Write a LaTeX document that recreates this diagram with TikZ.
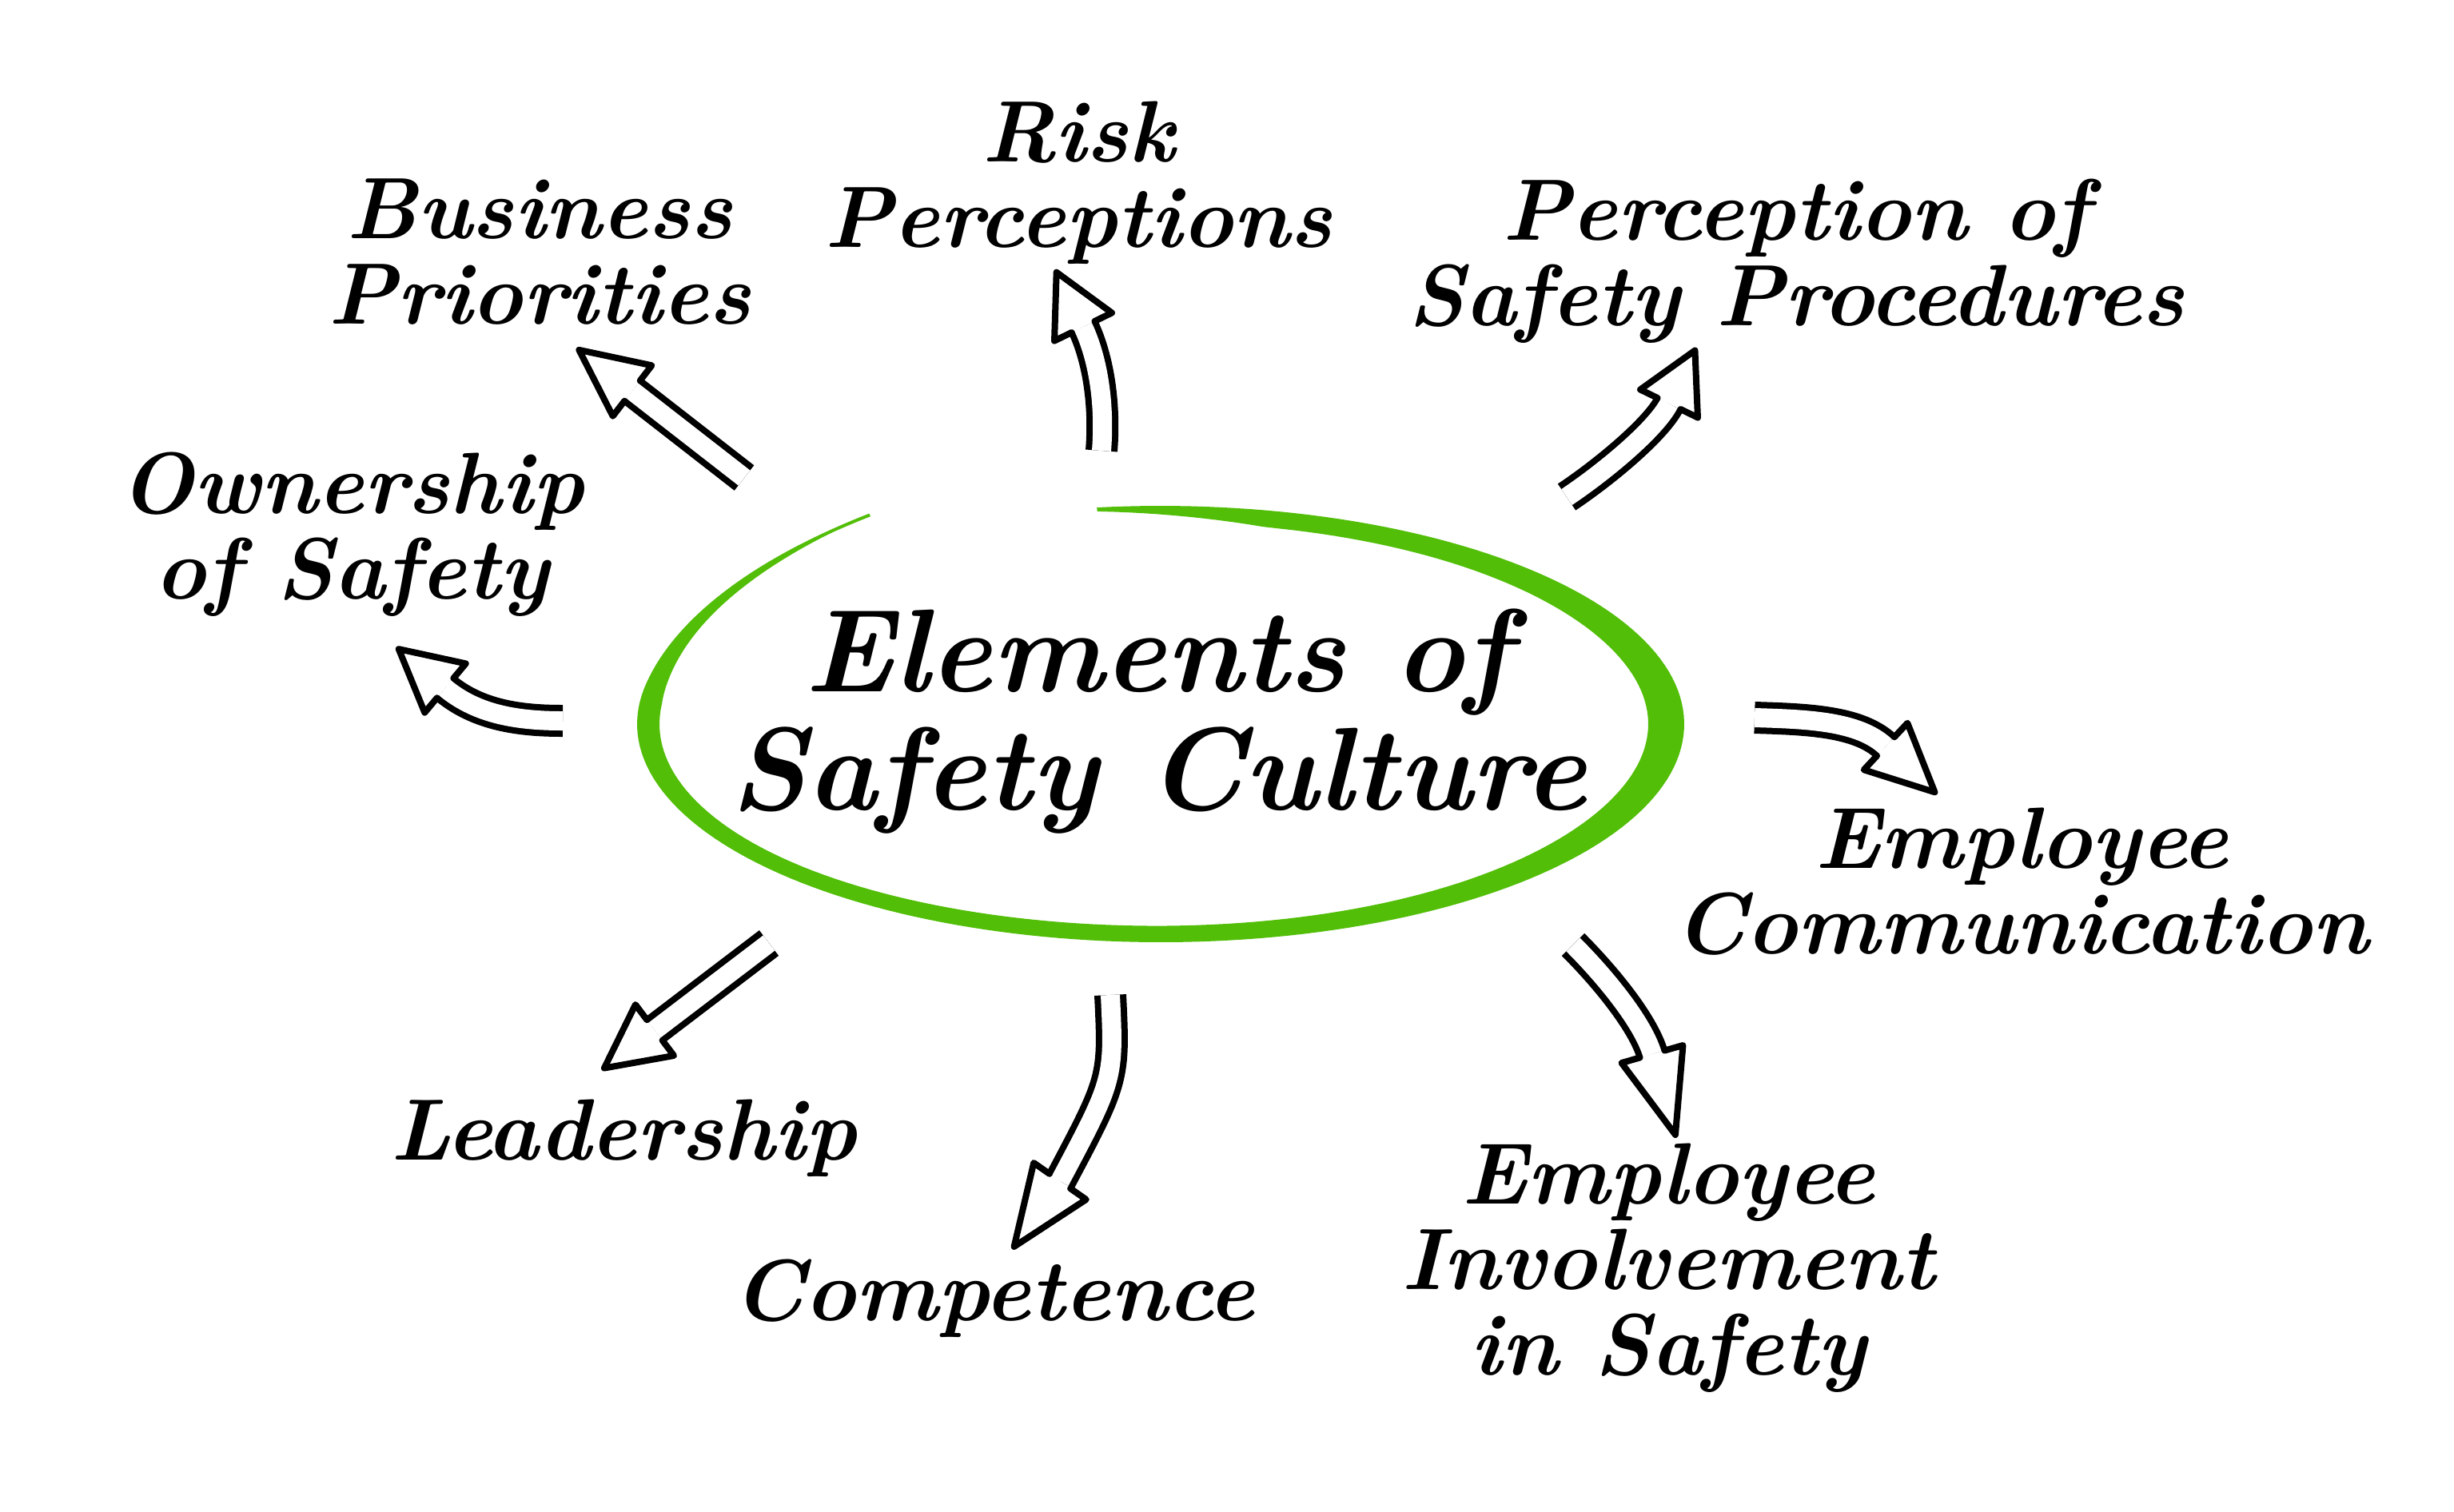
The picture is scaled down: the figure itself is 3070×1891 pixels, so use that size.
\documentclass[tikz,border=0pt]{standalone}
\usepackage{fontspec}
\definecolor{leaf}{RGB}{82,190,8}
\def\harrow[#1:#2](#3)(#4)(#5)(#6){\draw[shaft] (#3) .. controls (#4) and (#5) .. (#6); \draw[head, shift={(#6)}, rotate=#1] (0, 16) -- (0, 40) -- (#2, 0) -- (0, -40) -- (0, -16);}

\begin{document}
\begin{tikzpicture}[x=0.1mm, y=-0.1mm,
		shaft/.style={line width=0.8mm, double=white, double distance=2.4mm},
		head/.style={line width=0.8mm, fill=white, line join=round, line cap=round},
		label/.style={font=\fontsize{31}{30.4}\selectfont\bfseries\itshape, align=center, anchor=base, inner sep=0pt},
		declare function={
			ew(\t)=max(4, (20+25*exp(-(\t/45)*(\t/45))+8*exp(-((\t-180)/30)*((\t-180)/30)))*min(1,(\t+103)/25)*min(1,(246-\t)/60));
			es(\t)=1+0.114*max(0,\t-190)*max(0,\t-190)/2500;}]
			%%%%% START %%%%%
			
			\fill[white] (0, 0) rectangle (3070, 1891);
			\useasboundingbox (0, 0) rectangle (3070, 1891);
			
			% green ring, thicker on the right
			\fill[leaf] plot[domain=-97:240, samples=200] ({1452+655*es(\x)*cos(\x)}, {906+273*es(\x)*sin(\x)})
				-- plot[domain=240:-97, samples=200] ({1452+(655*es(\x)-ew(\x))*cos(\x)}, {906+(273*es(\x)-ew(\x))*sin(\x)}) -- cycle;
			
			\node[label, font=\fontsize{42}{42}\selectfont\bfseries\itshape] (title) at (1449, 1013) {Elements of\\Safety Culture};
			
			\node[label] (risk) at (1349, 309) {Risk\\Perceptions};
			\node[label] (business) at (675, 405) {Business\\Priorities};
			\node[label] (procedures) at (2247, 407) {Perception of\\Safety Procedures};
			\node[label] (ownership) at (440, 749) {Ownership\\of Safety};
			\node[label] (comm) at (2529, 1193) {Employee\\Communication};
			\node[label] (leader) at (780, 1451) {Leadership};
			\node[label] (competence) at (1243, 1652) {Competence};
			\node[label] (involve) at (2087, 1720) {Employee\\Involvement\\in Safety};
			
			% arrow ends
			\coordinate (business-a) at (931, 598);
			\coordinate (business-b) at (791, 489);
			\coordinate (risk-a) at (1378, 564);
			\coordinate (risk-b) at (1355, 409);
			\coordinate (procedures-a) at (1960, 622);
			\coordinate (procedures-b) at (2088, 505);
			\coordinate (ownership-a) at (704, 902);
			\coordinate (ownership-b) at (557, 861);
			\coordinate (comm-a) at (2195, 898);
			\coordinate (comm-b) at (2359, 934);
			\coordinate (involve-a) at (1968, 1182);
			\coordinate (involve-b) at (2067, 1319);
			\coordinate (competence-a) at (1389, 1245);
			\coordinate (competence-b) at (1326, 1478);
			\coordinate (leader-a) at (962, 1180);
			\coordinate (leader-b) at (819, 1289);
			
			\harrow[142.5:84](business-a)(business-a)(business-b)(business-b)
			\harrow[116:76](risk-a)(1383, 500)(1372, 445)(risk-b)
			\harrow[64:74](procedures-a)(2005, 592)(2071, 538)(procedures-b)
			\harrow[140:76](ownership-a)(650, 902)(598, 895)(ownership-b)
			\harrow[-43:84](comm-a)(2260, 900)(2325, 902)(comm-b)
			\harrow[-74:105](involve-a)(2008, 1222)(2055, 1279)(involve-b)
			\harrow[-125:100](competence-a)(1394, 1350)(1394, 1350)(competence-b)
			\harrow[-143:79](leader-a)(leader-a)(leader-b)(leader-b)
			
			%%%%% END %%%%%
		\end{tikzpicture}
\end{document}
